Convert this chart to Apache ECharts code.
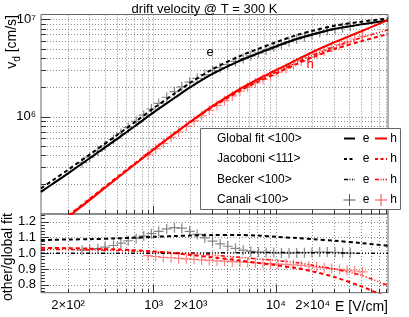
<!DOCTYPE html>
<html><head><meta charset="utf-8">
<script src="https://cdn.jsdelivr.net/npm/echarts@6/dist/echarts.min.js"></script>
<style>html,body{margin:0;padding:0;background:#fff}#c{width:409px;height:317px}</style>
</head><body><div id="c"></div>
<script>
// ---- data ----
const eField = [120,150,200,300,500,700,1000,1500,2000,3000,5000,7000,10000,15000,20000,30000,50000,82500];
const vGlobalE = [1.69e5,2.05e5,2.62e5,3.75e5,5.9e5,8.0e5,1.11e6,1.58e6,2.02e6,2.75e6,3.75e6,4.45e6,5.3e6,6.35e6,7.05e6,8.0e6,8.95e6,9.82e6];
const vGlobalH = [5.5e4,6.9e4,9.3e4,1.39e5,2.32e5,3.23e5,4.6e5,6.8e5,8.9e5,1.28e6,1.92e6,2.42e6,3.02e6,3.9e6,4.65e6,5.85e6,7.6e6,9.9e6];
const vJacoboniE = [1.834e5,2.226e5,2.851e5,4.088e5,6.46e5,8.8e5,1.227e6,1.754e6,2.248e6,3.069e6,4.189e6,4.953e6,5.857e6,6.966e6,7.685e6,8.64e6,9.532e6,1.029e7];
const vJacoboniH = [5.69e4,7.13e4,9.61e4,1.432e5,2.378e5,3.295e5,4.655e5,6.8e5,8.81e5,1.248e6,1.834e6,2.275e6,2.794e6,3.53e6,4.115e6,4.973e6,6.004e6,7.13e6];
const vBeckerE = [1.69e5,2.05e5,2.62e5,3.75e5,5.9e5,8.0e5,1.11e6,1.582e6,2.024e6,2.758e6,3.765e6,4.472e6,5.327e6,6.382e6,7.078e6,8.024e6,8.959e6,9.82e6];
const vBeckerH = [5.64e4,7.07e4,9.52e4,1.421e5,2.362e5,3.275e5,4.646e5,6.827e5,8.9e5,1.267e6,1.872e6,2.335e6,2.884e6,3.666e6,4.301e6,5.265e6,6.536e6,7.87e6];

const ratioJacoboniE = [1.085,1.086,1.088,1.09,1.095,1.1,1.105,1.11,1.113,1.116,1.117,1.113,1.105,1.097,1.09,1.08,1.065,1.048];
const ratioJacoboniH = [1.035,1.034,1.033,1.03,1.025,1.02,1.012,1.0,0.99,0.975,0.955,0.94,0.925,0.905,0.885,0.85,0.79,0.72];
const ratioBeckerE = [1.0,1.0,1.0,1.0,1.0,1.0,1.0,1.001,1.002,1.003,1.004,1.005,1.005,1.005,1.004,1.003,1.001,1.0];
const ratioBeckerH = [1.025,1.025,1.024,1.022,1.018,1.014,1.01,1.004,1.0,0.99,0.975,0.965,0.955,0.94,0.925,0.9,0.86,0.795];

const canaliFieldE = [260,300,350,400,470,540,620,720,830,960,1100,1280,1480,1700,1970,2270,2620,3030,3500,4040,4670,5400,6230,7200,8320,9600,11100,12800,14800,17100,19700,22800,26300,30400,35100,40500];
const canaliVelE = [3.373e5,3.84e5,4.43e5,5.04e5,5.87e5,6.73e5,7.74e5,8.99e5,1.039e6,1.204e6,1.375e6,1.59e6,1.815e6,2.038e6,2.272e6,2.491e6,2.723e6,2.983e6,3.203e6,3.445e6,3.718e6,3.978e6,4.247e6,4.549e6,4.871e6,5.221e6,5.571e6,5.932e6,6.342e6,6.682e6,7.046e6,7.398e6,7.738e6,8.08e6,8.32e6,8.56e6];
const canaliRatioE = [1.02,1.025,1.03,1.04,1.05,1.065,1.08,1.095,1.11,1.125,1.14,1.155,1.163,1.16,1.14,1.12,1.098,1.078,1.06,1.045,1.032,1.02,1.012,1.008,1.006,1.005,1.003,1.002,1.003,1.004,1.006,1.008,1.008,1.007,1.005,1.002];

const canaliFieldH = [900,1040,1200,1390,1600,1850,2140,2470,2850,3300,3800,4400,5080,5870,6780,7830,9040,10400,12100,13900,16100,18600,21500,24800,28600,33100,38200,44100,51000];
const canaliVelH = [4.083e5,4.681e5,5.342e5,6.134e5,6.995e5,7.993e5,9.1e5,1.031e6,1.169e6,1.314e6,1.465e6,1.641e6,1.834e6,2.02e6,2.228e6,2.431e6,2.652e6,2.885e6,3.168e6,3.447e6,3.758e6,4.081e6,4.424e6,4.772e6,5.148e6,5.523e6,5.908e6,6.323e6,6.77e6];
const canaliRatioH = [0.985,0.98,0.975,0.972,0.968,0.965,0.962,0.958,0.955,0.952,0.95,0.947,0.945,0.942,0.94,0.937,0.935,0.932,0.93,0.927,0.923,0.918,0.913,0.908,0.903,0.898,0.893,0.888,0.882];

// ---- ticks ----
const xGridValues = [200,300,400,500,600,700,800,900,1000,2000,3000,4000,5000,6000,7000,8000,9000,10000,20000,30000,40000,50000,60000,70000,80000];
const xMajorTicks = [1000,10000];
const xLabelValues = [200,1000,2000,10000,20000];
const xTickLabels = ['2×10²','10³','2×10³','10⁴','2×10⁴'];
const yTopGridValues = [2e5,3e5,4e5,5e5,6e5,7e5,8e5,9e5,1e6,2e6,3e6,4e6,5e6,6e6,7e6,8e6,9e6,1e7];
const yTopMajor = [1e6,1e7];
const yTopLabels = ['10⁶','10⁷'];
const yRatioMajor = [0.8,0.9,1.0,1.1,1.2];
const yRatioLabels = ['0.8','0.9','1.0','1.1','1.2'];
const yRatioMinor = [0.76,0.78,0.8,0.82,0.84,0.86,0.88,0.9,0.92,0.94,0.96,0.98,1.0,1.02,1.04,1.06,1.08,1.1,1.12,1.14,1.16,1.18,1.2,1.22,1.24];

const X_MIN = 120, X_MAX = 82500, Y_MIN = 1e5, Y_MAX = 1.13e7, R_MIN = 0.75, R_MAX = 1.25;

// ---- build ----
const FF = 'Liberation Sans, Arial, sans-serif';
const pair = (xs, ys) => xs.map((x, i) => [x, ys[i]]);
const lookup = (vals, labels) => v => {
  const i = vals.findIndex(t => Math.abs(v / t - 1) < 1e-6);
  return i < 0 ? '' : labels[i];
};
const PLUS = 'path://M4.4,0h1.2v4.4h4.4v1.2h-4.4v4.4h-1.2v-4.4h-4.4v-1.2h4.4z';
const gridLine = { show: true, lineStyle: { color: '#8a8a8a', width: 1, type: [1, 2] } };
const tickStyle = { color: '#333', width: 1 };
const DASH = [4, 3];
const DOTDASH = [4, 2, 1, 2, 1, 2, 1, 2];

function xAxisDef(grid, major, labels) {
  return {
    type: 'log', logBase: 10, gridIndex: grid, min: X_MIN, max: X_MAX, position: 'bottom',
    axisLine: { show: false, onZero: false },
    axisTick: { show: true, inside: true, length: major ? 8 : 4, customValues: major ? xMajorTicks : xGridValues, lineStyle: tickStyle },
    splitLine: major ? { show: false } : gridLine,
    minorTick: { show: false }, minorSplitLine: { show: false },
    axisLabel: labels ? { show: true, customValues: xLabelValues, formatter: lookup(xLabelValues, xTickLabels), fontFamily: FF, fontSize: 13, color: '#000', margin: 6 } : { show: false }
  };
}

const option = {
  animation: false,
  backgroundColor: '#fff',
  title: { text: 'drift velocity @ T = 300 K', left: 'center', top: -2, textStyle: { fontSize: 13, fontWeight: 'normal', fontFamily: FF, color: '#000' } },
  grid: [
    { left: 41, right: 21, top: 14.5, height: 199.5, show: true, borderColor: '#666', borderWidth: 1, backgroundColor: 'transparent' },
    { left: 41, right: 21, top: 214, height: 78.7, show: true, borderColor: '#666', borderWidth: 1, backgroundColor: 'transparent' }
  ],
  xAxis: [ xAxisDef(0, true, false), xAxisDef(0, false, false), xAxisDef(1, true, true), xAxisDef(1, false, false) ],
  yAxis: [
    { type: 'log', logBase: 10, gridIndex: 0, min: Y_MIN, max: Y_MAX, position: 'left',
      axisLine: { show: false }, axisTick: { show: true, inside: true, length: 9, customValues: yTopMajor, lineStyle: tickStyle },
      splitLine: { show: false },
      axisLabel: { show: true, customValues: yTopMajor, formatter: lookup(yTopMajor, yTopLabels), fontFamily: FF, fontSize: 13, color: '#000', margin: 5 } },
    { type: 'log', logBase: 10, gridIndex: 0, min: Y_MIN, max: Y_MAX, position: 'left',
      axisLine: { show: false }, axisTick: { show: true, inside: true, length: 5, customValues: yTopGridValues, lineStyle: tickStyle },
      splitLine: gridLine, axisLabel: { show: false } },
    { type: 'value', gridIndex: 1, min: R_MIN, max: R_MAX, position: 'left',
      axisLine: { show: false, onZero: false }, axisTick: { show: true, inside: true, length: 8, customValues: yRatioMajor, lineStyle: tickStyle },
      splitLine: gridLine,
      axisLabel: { show: true, customValues: yRatioMajor, formatter: lookup(yRatioMajor, yRatioLabels), fontFamily: FF, fontSize: 13, color: '#000', margin: 5 } },
    { type: 'value', gridIndex: 1, min: R_MIN, max: R_MAX, position: 'left',
      axisLine: { show: false, onZero: false }, axisTick: { show: true, inside: true, length: 4, customValues: yRatioMinor, lineStyle: tickStyle },
      splitLine: { show: false }, axisLabel: { show: false } }
  ],
  series: [
    { type: 'scatter', xAxisIndex: 0, yAxisIndex: 0, data: pair(canaliFieldE, canaliVelE), symbol: PLUS, symbolSize: 10, itemStyle: { color: '#6a6a6a' }, z: 2 },
    { type: 'scatter', xAxisIndex: 0, yAxisIndex: 0, data: pair(canaliFieldH, canaliVelH), symbol: PLUS, symbolSize: 10, itemStyle: { color: '#ff5a5a', opacity: 0.75 }, z: 2 },
    { type: 'line', xAxisIndex: 0, yAxisIndex: 0, data: pair(eField, vJacoboniE), showSymbol: false, smooth: 0.3, lineStyle: { color: '#000', width: 2, type: DASH }, z: 3 },
    { type: 'line', xAxisIndex: 0, yAxisIndex: 0, data: pair(eField, vJacoboniH), showSymbol: false, smooth: 0.3, lineStyle: { color: '#ff0000', width: 2, type: DASH }, z: 3 },
    { type: 'line', xAxisIndex: 0, yAxisIndex: 0, data: pair(eField, vBeckerE), showSymbol: false, smooth: 0.3, lineStyle: { color: '#000', width: 1.5, type: DOTDASH }, z: 3 },
    { type: 'line', xAxisIndex: 0, yAxisIndex: 0, data: pair(eField, vBeckerH), showSymbol: false, smooth: 0.3, lineStyle: { color: '#ff0000', width: 1.5, type: DOTDASH }, z: 3 },
    { type: 'line', xAxisIndex: 0, yAxisIndex: 0, data: pair(eField, vGlobalE), showSymbol: false, smooth: 0.3, lineStyle: { color: '#000', width: 2 }, z: 4 },
    { type: 'line', xAxisIndex: 0, yAxisIndex: 0, data: pair(eField, vGlobalH), showSymbol: false, smooth: 0.3, lineStyle: { color: '#ff0000', width: 2 }, z: 4 },

    { type: 'scatter', xAxisIndex: 2, yAxisIndex: 2, data: pair(canaliFieldE, canaliRatioE), symbol: PLUS, symbolSize: 10, itemStyle: { color: '#6a6a6a' }, z: 2 },
    { type: 'scatter', xAxisIndex: 2, yAxisIndex: 2, data: pair(canaliFieldH, canaliRatioH), symbol: PLUS, symbolSize: 10, itemStyle: { color: '#ff5a5a', opacity: 0.75 }, z: 2 },
    { type: 'line', xAxisIndex: 2, yAxisIndex: 2, data: pair(eField, ratioJacoboniE), showSymbol: false, smooth: 0.3, lineStyle: { color: '#000', width: 2, type: DASH }, z: 3 },
    { type: 'line', xAxisIndex: 2, yAxisIndex: 2, data: pair(eField, ratioJacoboniH), showSymbol: false, smooth: 0.3, lineStyle: { color: '#ff0000', width: 2, type: DASH }, z: 3 },
    { type: 'line', xAxisIndex: 2, yAxisIndex: 2, data: pair(eField, ratioBeckerE), showSymbol: false, smooth: 0.3, lineStyle: { color: '#000', width: 1.5, type: DOTDASH }, z: 3 },
    { type: 'line', xAxisIndex: 2, yAxisIndex: 2, data: pair(eField, ratioBeckerH), showSymbol: false, smooth: 0.3, lineStyle: { color: '#ff0000', width: 1.5, type: DOTDASH }, z: 3 }
  ],
  graphic: (function () {
    const g = [];
    const Z = 100;
    // axis titles
    g.push({ type: 'text', z: Z, x: 12, y: 15, rotation: Math.PI / 2,
      style: { text: '{v|v}{d|d}{v| [cm/s]}', align: 'right', verticalAlign: 'middle', fill: '#000',
        rich: { v: { fontSize: 14, fontFamily: FF, lineHeight: 20, fill: '#000' }, d: { fontSize: 10, fontFamily: FF, lineHeight: 12, verticalAlign: 'bottom', fill: '#000' } } } });
    g.push({ type: 'text', z: Z, x: 8.5, y: 213, rotation: Math.PI / 2,
      style: { text: 'other/global fit', align: 'right', verticalAlign: 'middle', fontSize: 14, fontFamily: FF, fill: '#000' } });
    g.push({ type: 'text', z: Z, x: 388, y: 307,
      style: { text: 'E [V/cm]', align: 'right', verticalAlign: 'middle', fontSize: 14, fontFamily: FF, fill: '#000' } });
    // curve labels
    g.push({ type: 'text', z: Z, x: 210, y: 52, style: { text: 'e', align: 'center', verticalAlign: 'middle', fontSize: 13, fontFamily: FF, fill: '#000' } });
    g.push({ type: 'text', z: Z, x: 310, y: 64, style: { text: 'h', align: 'center', verticalAlign: 'middle', fontSize: 13, fontFamily: FF, fill: '#ff0000' } });
    // legend
    g.push({ type: 'rect', z: Z, shape: { x: 200.5, y: 128.5, width: 200, height: 81 }, style: { fill: '#fff', stroke: '#666', lineWidth: 1 } });
    const rows = [
      { label: 'Global fit <100>', y: 138.5, kind: 'solid' },
      { label: 'Jacoboni <111>', y: 159, kind: 'dash' },
      { label: 'Becker <100>', y: 179.5, kind: 'dotdash' },
      { label: 'Canali <100>', y: 200, kind: 'plus' }
    ];
    rows.forEach(r => {
      g.push({ type: 'text', z: Z + 1, x: 217, y: r.y, style: { text: r.label, align: 'left', verticalAlign: 'middle', fontSize: 12, fontFamily: FF, fill: '#000' } });
      [['#000', 344, 355, 366, 'e'], ['#ff0000', 375, 387, 393.5, 'h']].forEach(([col, x1, x2, tx, t]) => {
        if (r.kind === 'plus') {
          const cx = (x1 + x2) / 2;
          const c = col === '#000' ? '#555' : '#ff4040';
          g.push({ type: 'line', z: Z + 1, shape: { x1: cx - 6, y1: r.y, x2: cx + 6, y2: r.y }, style: { stroke: c, lineWidth: 1 } });
          g.push({ type: 'line', z: Z + 1, shape: { x1: cx, y1: r.y - 6, x2: cx, y2: r.y + 6 }, style: { stroke: c, lineWidth: 1 } });
        } else {
          const dash = r.kind === 'dash' ? [3, 2.5] : r.kind === 'dotdash' ? [4, 1.5, 1, 1.5, 1, 1.5] : null;
          g.push({ type: 'line', z: Z + 1, shape: { x1: x1, y1: r.y, x2: x2, y2: r.y }, style: { stroke: col, lineWidth: r.kind === 'dotdash' ? 1.5 : 2, lineDash: dash } });
        }
        g.push({ type: 'text', z: Z + 1, x: tx, y: r.y, style: { text: t, align: 'center', verticalAlign: 'middle', fontSize: 12, fontFamily: FF, fill: '#000' } });
      });
    });
    return g;
  })()
};
const chart = echarts.init(document.getElementById('c'), null, { renderer: 'canvas' });
chart.setOption(option);
</script>
</body></html>
